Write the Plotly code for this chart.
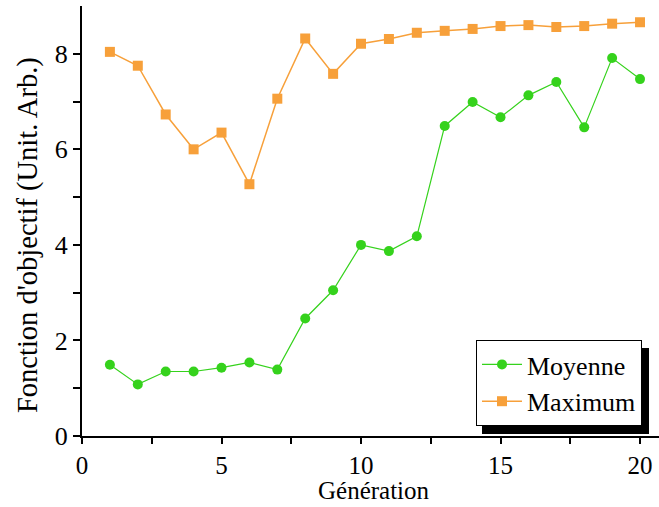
import plotly.graph_objects as go

generations = list(range(1, 21))
moyenne = [1.49, 1.08, 1.35, 1.35, 1.43, 1.54, 1.39, 2.46, 3.05, 4.00,
           3.87, 4.18, 6.49, 6.99, 6.67, 7.13, 7.41, 6.46, 7.91, 7.47]
maximum = [8.04, 7.75, 6.73, 6.00, 6.35, 5.27, 7.06, 8.32, 7.58, 8.21,
           8.31, 8.44, 8.48, 8.52, 8.58, 8.60, 8.56, 8.58, 8.63, 8.66]

x_tickvals = [0, 2.5, 5, 7.5, 10, 12.5, 15, 17.5, 20]
x_ticktext = ["0", "", "5", "", "10", "", "15", "", "20"]
y_tickvals = [0, 1, 2, 3, 4, 5, 6, 7, 8]
y_ticktext = ["0", "", "2", "", "4", "", "6", "", "8"]
x_title = "Génération"
y_title = "Fonction d'objectif (Unit. Arb.)"

GREEN = "#35d21c"
ORANGE = "#f7a03a"
FONT = "Liberation Serif"

fig = go.Figure()
fig.add_trace(go.Scatter(
    x=generations, y=moyenne, name="Moyenne", mode="lines+markers",
    line=dict(color=GREEN, width=1.2),
    marker=dict(symbol="circle", size=10, color=GREEN),
))
fig.add_trace(go.Scatter(
    x=generations, y=maximum, name="Maximum", mode="lines+markers",
    line=dict(color=ORANGE, width=1.5),
    marker=dict(symbol="square", size=10, color=ORANGE),
))

W, H = 659, 507
ml, mr, mt, mb = 82, 0, 6, 71
pw, ph = W - ml - mr, H - mt - mb

def px_x(p):
    return (p - ml) / pw

def px_y(p):
    return (H - mb - p) / ph

# legend shadow
fig.add_shape(type="rect", xref="paper", yref="paper",
              x0=px_x(482), x1=px_x(649), y0=px_y(434), y1=px_y(348),
              fillcolor="black", line=dict(width=0), layer="above")

# axis titles
fig.add_annotation(text=y_title, xref="paper", yref="paper",
                   x=px_x(28), y=px_y(235), xanchor="center", yanchor="middle",
                   textangle=-90, showarrow=False,
                   font=dict(family=FONT, size=28.5, color="black"))
fig.add_annotation(text=x_title, xref="paper", yref="paper",
                   x=px_x(374), y=px_y(490), xanchor="center", yanchor="middle",
                   showarrow=False,
                   font=dict(family=FONT, size=25, color="black"))

fig.update_layout(
    width=W, height=H,
    margin=dict(l=ml, r=mr, t=mt, b=mb, autoexpand=False),
    paper_bgcolor="white", plot_bgcolor="white",
    font=dict(family=FONT, size=26, color="black"),
    showlegend=True,
    legend=dict(x=px_x(642), y=px_y(340), xanchor="right", yanchor="top",
                bgcolor="white", bordercolor="black", borderwidth=1,
                font=dict(family=FONT, size=26), tracegroupgap=0,
                itemwidth=40),
    xaxis=dict(range=[0, 20.68], tickvals=x_tickvals, ticktext=x_ticktext,
               showgrid=False, zeroline=False, showline=True, linecolor="black",
               linewidth=2, ticks="outside", ticklen=6, tickwidth=2,
               tickcolor="black", mirror=False,
               tickfont=dict(family=FONT, size=25)),
    xaxis2=dict(range=[0, 20.68], tickvals=x_tickvals, overlaying="x",
                side="top", showticklabels=False, showgrid=False,
                zeroline=False, showline=True, linecolor="black", linewidth=2,
                ticks="inside", ticklen=3, tickwidth=1.5, tickcolor="black"),
    yaxis=dict(range=[0, 9], tickvals=y_tickvals, ticktext=y_ticktext,
               showgrid=False, zeroline=False, showline=True, linecolor="black",
               linewidth=2, ticks="outside", ticklen=7, tickwidth=2,
               tickcolor="black",
               tickfont=dict(family=FONT, size=26)),
)

fig.write_html("out.html",
               config={"displayModeBar": False},
               post_script="document.body.style.margin='0';document.body.style.padding='0';")
